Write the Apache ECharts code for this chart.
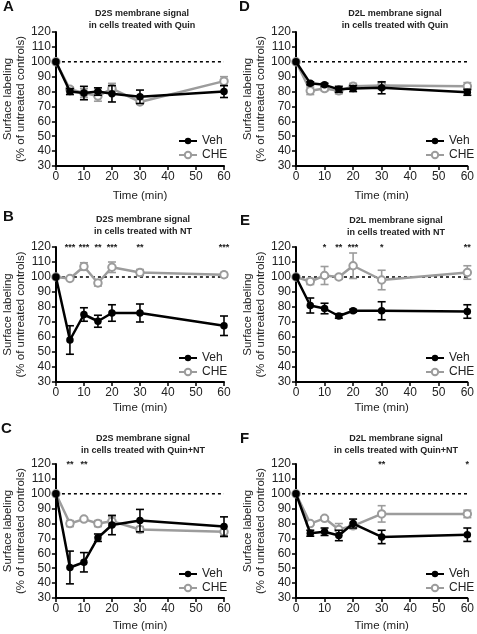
<!DOCTYPE html>
<html>
<head>
<meta charset="utf-8">
<script src="https://cdn.jsdelivr.net/npm/echarts@6/dist/echarts.min.js"></script>
<style>html,body{margin:0;padding:0;background:#fff}#c{width:477px;height:634px}</style>
</head>
<body>
<div id="c"></div>
<script>
// ---- data ----
const time = [0, 5, 10, 15, 20, 30, 60];
const xTicks = [0, 10, 20, 30, 40, 50, 60];
const yTicks = [30, 40, 50, 60, 70, 80, 90, 100, 110, 120];
const seriesNames = ['Veh', 'CHE'];

const A_veh = [100, 80, 79, 80, 78.5, 76.5, 80];
const A_vehErr = [0, 2, 4.5, 2.5, 5.5, 4.5, 4];
const A_che = [100, 81.5, 79, 77, 82, 73, 87];
const A_cheErr = [0, 1.5, 3, 3.5, 3.5, 1, 3];

const D_veh = [100, 85.5, 84.5, 81.5, 82, 82.5, 79.5];
const D_vehErr = [0, 1, 1, 2, 2, 4, 2];
const D_che = [100, 80.5, 82, 80.5, 83.5, 84, 83.5];
const D_cheErr = [0, 2.5, 1.5, 2, 2, 2.5, 2.5];

const B_veh = [100, 58, 75, 70.5, 76, 76, 67.5];
const B_vehErr = [0, 9.5, 4.5, 4, 5.5, 6, 6.5];
const B_che = [100, 99, 107, 96, 106.5, 103, 101.5];
const B_cheErr = [0, 0.5, 2.5, 2, 3.5, 2, 1.5];

const E_veh = [100, 81, 79, 74, 77.5, 77.5, 77];
const E_vehErr = [0, 5, 3.5, 1.5, 1, 6, 4.5];
const E_che = [100, 97, 101, 100, 107.5, 98, 103];
const E_cheErr = [0, 2, 6, 1.5, 8.5, 6.5, 4.5];

const C_veh = [100, 50.5, 54, 70.5, 79, 82, 78];
const C_vehErr = [0, 11, 6.5, 2.5, 6.5, 7.5, 6.5];
const C_che = [100, 80, 83, 80, 81.5, 76, 74.5];
const C_cheErr = [0, 2, 1, 2, 3, 2, 3.5];

const F_veh = [100, 73.5, 74.5, 72, 80, 71, 72.5];
const F_vehErr = [0, 2, 2.5, 3.5, 3, 4.5, 4.5];
const F_che = [100, 80, 83.5, 76, 78.5, 86.5, 86.5];
const F_cheErr = [0, 1, 1, 4, 2, 5.5, 2.5];

const B_starTimes = [5, 10, 15, 20, 30, 60];
const B_stars = ['***', '***', '**', '***', '**', '***'];
const E_starTimes = [10, 15, 20, 30, 60];
const E_stars = ['*', '**', '***', '*', '**'];
const C_starTimes = [5, 10];
const C_stars = ['**', '**'];
const F_starTimes = [30, 60];
const F_stars = ['**', '*'];

const refLine = 100;

// ---- panels ----
const panels = [
  {letter: 'A', title: 'D2S membrane signal\nin cells treated with Quin', veh: A_veh, vehErr: A_vehErr, che: A_che, cheErr: A_cheErr, st: [], sl: [],
   left: 49, top: 32, h: 134, titleX: 142, titleY: 8, letterX: 3, letterY: 7, legTop: 135, xGap: 24, yGap: 19},
  {letter: 'D', title: 'D2L membrane signal\nin cells treated with Quin', veh: D_veh, vehErr: D_vehErr, che: D_che, cheErr: D_cheErr, st: [], sl: [],
   left: 296, top: 32, h: 134, titleX: 395, titleY: 8, letterX: 239, letterY: 7, legTop: 135, xGap: 24, yGap: 26},
  {letter: 'B', title: 'D2S membrane signal\nin cells treated with NT', veh: B_veh, vehErr: B_vehErr, che: B_che, cheErr: B_cheErr, st: B_starTimes, sl: B_stars,
   left: 49, top: 247, h: 135, titleX: 143, titleY: 214, letterX: 3, letterY: 217, legTop: 352, xGap: 20, yGap: 19},
  {letter: 'E', title: 'D2L membrane signal\nin cells treated with NT', veh: E_veh, vehErr: E_vehErr, che: E_che, cheErr: E_cheErr, st: E_starTimes, sl: E_stars,
   left: 296, top: 247, h: 135, titleX: 396, titleY: 215, letterX: 240, letterY: 221, legTop: 352, xGap: 20, yGap: 26},
  {letter: 'C', title: 'D2S membrane signal\nin cells treated with Quin+NT', veh: C_veh, vehErr: C_vehErr, che: C_che, cheErr: C_cheErr, st: C_starTimes, sl: C_stars,
   left: 49, top: 464, h: 134, titleX: 143, titleY: 433, letterX: 1, letterY: 429, legTop: 568, xGap: 22, yGap: 19},
  {letter: 'F', title: 'D2L membrane signal\nin cells treated with Quin+NT', veh: F_veh, vehErr: F_vehErr, che: F_che, cheErr: F_cheErr, st: F_starTimes, sl: F_stars,
   left: 296, top: 464, h: 134, titleX: 396, titleY: 433, letterX: 240, letterY: 439, legTop: 568, xGap: 22, yGap: 26}
];

const FONT = 'Liberation Sans, Arial, sans-serif';
const VEH_COLOR = '#000000';
const CHE_COLOR = '#9c9c9c';

function errRender(color) {
  return function (params, api) {
    const x = api.value(0), y = api.value(1), e = api.value(2);
    if (!e) return null;
    const top = api.coord([x, y + e]);
    const bot = api.coord([x, y - e]);
    const w = 4;
    const style = {stroke: color, lineWidth: 1.6, fill: null};
    return {type: 'group', children: [
      {type: 'line', shape: {x1: top[0], y1: top[1], x2: bot[0], y2: bot[1]}, style},
      {type: 'line', shape: {x1: top[0] - w, y1: top[1], x2: top[0] + w, y2: top[1]}, style},
      {type: 'line', shape: {x1: bot[0] - w, y1: bot[1], x2: bot[0] + w, y2: bot[1]}, style}
    ]};
  };
}

function starRender(params, api) {
  const p = api.coord([api.value(0), 120]);
  return {type: 'text', x: p[0], y: p[1] + 1, style: {text: api.value(2), fill: '#222', font: 'bold 9px ' + FONT, align: 'center', verticalAlign: 'middle'}};
}

const grid = [], xAxis = [], yAxis = [], series = [], legend = [], graphic = [];
panels.forEach((p, i) => {
  grid.push({left: p.left, top: p.top, width: 175, height: p.h});
  xAxis.push({
    gridIndex: i, type: 'value', min: xTicks[0], max: xTicks[xTicks.length - 1], interval: xTicks[1] - xTicks[0],
    axisLine: {show: true, onZero: false, lineStyle: {color: '#000', width: 2}},
    axisTick: {show: true, length: 4, lineStyle: {color: '#000', width: 1.5}},
    splitLine: {show: false},
    axisLabel: {fontSize: 12, color: '#222', margin: 5, fontFamily: FONT},
    name: 'Time (min)', nameLocation: 'middle', nameGap: p.xGap,
    nameTextStyle: {fontSize: 11.5, color: '#222', fontFamily: FONT, verticalAlign: 'top'}
  });
  yAxis.push({
    gridIndex: i, type: 'value', min: yTicks[0], max: yTicks[yTicks.length - 1], interval: yTicks[1] - yTicks[0],
    axisLine: {show: true, onZero: false, lineStyle: {color: '#000', width: 2}},
    axisTick: {show: true, length: 4, lineStyle: {color: '#000', width: 1.5}},
    splitLine: {show: false},
    axisLabel: {fontSize: 12, color: '#222', margin: 5, fontFamily: FONT},
    name: 'Surface labeling\n(% of untreated controls)', nameLocation: 'middle', nameGap: p.yGap,
    nameTextStyle: {fontSize: 11.5, color: '#222', fontFamily: FONT, lineHeight: 13}
  });
  // reference dashed line
  series.push({
    type: 'line', name: 'ref', xAxisIndex: i, yAxisIndex: i, silent: true, symbol: 'none', z: 3,
    data: [[xTicks[0], refLine], [xTicks[xTicks.length - 1], refLine]],
    lineStyle: {color: '#000', width: 1.5, type: [3, 3]}
  });
  // error bars
  series.push({
    type: 'custom', name: 'vehErr', xAxisIndex: i, yAxisIndex: i, silent: true, z: 5,
    renderItem: errRender(VEH_COLOR),
    data: time.map((t, k) => [t, p.veh[k], p.vehErr[k]])
  });
  series.push({
    type: 'custom', name: 'cheErr', xAxisIndex: i, yAxisIndex: i, silent: true, z: 4,
    renderItem: errRender(CHE_COLOR),
    data: time.map((t, k) => [t, p.che[k], p.cheErr[k]])
  });
  series.push({
    type: 'line', name: seriesNames[1], xAxisIndex: i, yAxisIndex: i, z: 4,
    symbol: 'circle', symbolSize: 7.5, showAllSymbol: true,
    lineStyle: {color: CHE_COLOR, width: 2.5},
    itemStyle: {color: '#fff', borderColor: CHE_COLOR, borderWidth: 2},
    data: time.map((t, k) => [t, p.che[k]])
  });
  series.push({
    type: 'line', name: seriesNames[0], xAxisIndex: i, yAxisIndex: i, z: 6,
    symbol: 'circle', symbolSize: 7.5, showAllSymbol: true,
    lineStyle: {color: VEH_COLOR, width: 2.5},
    itemStyle: {color: VEH_COLOR},
    data: time.map((t, k) => [t, p.veh[k]])
  });
  if (p.st.length) {
    series.push({
      type: 'custom', name: 'stars', xAxisIndex: i, yAxisIndex: i, silent: true, clip: false, z: 7,
      renderItem: starRender,
      data: p.st.map((t, k) => [t, 120, p.sl[k]])
    });
  }
  legend.push({
    data: seriesNames, orient: 'vertical', left: p.left + 129, top: p.legTop,
    itemWidth: 18, itemHeight: 8, itemGap: 2, selectedMode: false, padding: 0,
    textStyle: {fontSize: 12, color: '#222', fontFamily: FONT}
  });
  graphic.push({
    type: 'text', x: p.titleX, y: p.titleY,
    style: {text: p.title, font: 'bold 9px ' + FONT, fill: '#222', align: 'center', verticalAlign: 'top', lineHeight: 12}
  });
  graphic.push({
    type: 'text', x: p.letterX, y: p.letterY,
    style: {text: p.letter, font: 'bold 15px ' + FONT, fill: '#111', align: 'left', verticalAlign: 'middle'}
  });
});

const chart = echarts.init(document.getElementById('c'), null, {renderer: 'canvas'});
chart.setOption({
  backgroundColor: '#fff',
  animation: false,
  textStyle: {fontFamily: FONT},
  grid, xAxis, yAxis, series, legend, graphic
});
</script>
</body>
</html>
